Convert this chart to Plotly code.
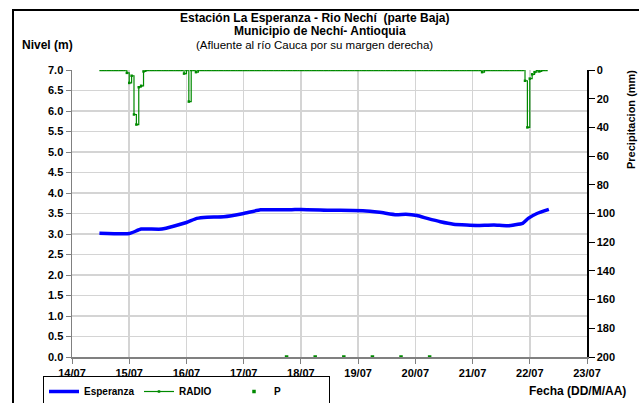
import pandas as pd
import plotly.graph_objects as go

# ---- data ----
level_times = ["2010-07-14 11:30", "2010-07-15 00:00", "2010-07-15 05:00", "2010-07-15 13:40",
               "2010-07-16 00:00", "2010-07-16 04:20", "2010-07-16 08:40", "2010-07-16 15:40",
               "2010-07-17 00:00", "2010-07-17 07:00", "2010-07-17 19:30", "2010-07-18 00:00",
               "2010-07-18 12:30", "2010-07-19 02:00", "2010-07-19 09:00", "2010-07-19 16:00",
               "2010-07-19 20:00", "2010-07-20 00:40", "2010-07-20 05:00", "2010-07-20 10:30",
               "2010-07-20 16:00", "2010-07-20 21:30", "2010-07-21 02:00", "2010-07-21 09:00",
               "2010-07-21 14:40", "2010-07-21 21:00", "2010-07-21 23:20", "2010-07-22 03:00",
               "2010-07-22 08:00"]
level_values = [3.02, 3.01, 3.12, 3.12, 3.28, 3.38, 3.41, 3.42, 3.50, 3.59, 3.59, 3.60,
                3.58, 3.57, 3.53, 3.47, 3.48, 3.45, 3.38, 3.30, 3.24, 3.22, 3.21, 3.22,
                3.20, 3.26, 3.38, 3.50, 3.60]

precip_start = "2010-07-14 12:00"
precip_end = "2010-07-22 07:00"
precip_event_times = ["2010-07-14 23:00", "2010-07-15 00:00", "2010-07-15 01:00", "2010-07-15 02:00",
                      "2010-07-15 03:00", "2010-07-15 04:00", "2010-07-15 05:00", "2010-07-15 06:00",
                      "2010-07-15 23:00", "2010-07-16 01:00", "2010-07-16 04:00", "2010-07-21 04:00",
                      "2010-07-21 22:00", "2010-07-21 23:00", "2010-07-22 00:00", "2010-07-22 01:00",
                      "2010-07-22 02:00", "2010-07-22 04:00"]
precip_event_values = [2, 9, 4, 31, 38, 12, 11, 1, 2.5, 22, 1.5, 1.5, 7.5, 40, 6, 3, 1.5, 1]

p_times = ["2010-07-17 18:00", "2010-07-18 06:00", "2010-07-18 18:00",
           "2010-07-19 06:00", "2010-07-19 18:00", "2010-07-20 06:00"]
p_values = [0, 0, 0, 0, 0, 0]

x_ticks = ["2010-07-14", "2010-07-15", "2010-07-16", "2010-07-17", "2010-07-18",
           "2010-07-19", "2010-07-20", "2010-07-21", "2010-07-22", "2010-07-23"]
y_ticks = [0.0, 0.5, 1.0, 1.5, 2.0, 2.5, 3.0, 3.5, 4.0, 4.5, 5.0, 5.5, 6.0, 6.5, 7.0]
y2_ticks = [0, 20, 40, 60, 80, 100, 120, 140, 160, 180, 200]

# hourly precipitation series (zero where no rain was recorded)
hours = pd.date_range(precip_start, precip_end, freq="h")
events = dict(zip(pd.to_datetime(precip_event_times), precip_event_values))
precip_values = [events.get(h, 0) for h in hours]

FONT = "Arial, Liberation Sans, sans-serif"
GREEN = "#008a00"

fig = go.Figure()
fig.add_trace(go.Scatter(x=pd.to_datetime(level_times), y=level_values, name="<b>Esperanza</b>",
                         mode="lines", line=dict(color="#0000ff", width=3.5, shape="spline",
                                                 smoothing=0.4)))
fig.add_trace(go.Scatter(x=hours, y=precip_values, name="<b>RADIO</b>", yaxis="y2",
                         mode="lines+markers", line=dict(color=GREEN, width=1.2, shape="hv"),
                         marker=dict(color=GREEN, size=2.5, symbol="square")))
fig.add_trace(go.Scatter(x=pd.to_datetime(p_times), y=p_values, name="<b>P</b>", mode="markers",
                         marker=dict(color=GREEN, size=3.5, symbol="square")))

W, H = 639, 403
L, R, T, B = 72, 52, 70, 46
pw, ph = W - L - R, H - T - B


def px(x):
    return (x - L) / pw


def py(y):
    return (H - B - y) / ph


tickfont = dict(family=FONT, size=11, color="black")
fig.update_layout(
    width=W, height=H,
    margin=dict(l=L, r=R, t=T, b=B, autoexpand=False),
    paper_bgcolor="white", plot_bgcolor="white",
    font=dict(family=FONT, size=11, color="black"),
    showlegend=True,
    legend=dict(orientation="h", x=px(43), y=py(376), xanchor="left", yanchor="top",
                bordercolor="black", borderwidth=1, bgcolor="white",
                font=dict(family=FONT, size=10, color="black"),
                entrywidth=50, itemwidth=30, tracegroupgap=0),
    xaxis=dict(range=["2010-07-14", "2010-07-23"], tickvals=pd.to_datetime(x_ticks),
               ticktext=["<b>%s</b>" % pd.Timestamp(t).strftime("%d/%m") for t in x_ticks],
               showgrid=True, gridcolor="#d4d4d4", gridwidth=1.5, automargin=False,
               showline=True, linecolor="#808080", linewidth=1.5,
               ticks="outside", ticklen=5, tickcolor="#808080",
               tickfont=tickfont, zeroline=False),
    yaxis=dict(range=[0, 7], tickvals=y_ticks, ticktext=["<b>%.1f</b>" % v for v in y_ticks],
               showgrid=True, gridcolor="#d4d4d4", automargin=False,
               gridwidth=1.5, showline=True, linecolor="#808080", linewidth=1.5,
               ticks="outside", ticklen=5, tickcolor="#808080", zeroline=False,
               tickfont=tickfont),
    yaxis2=dict(range=[200, 0], overlaying="y", side="right", showgrid=False, automargin=False,
                showline=True, linecolor="black", linewidth=1.5, ticks="outside", ticklen=6,
                tickcolor="black", zeroline=False, tickvals=y2_ticks,
                ticktext=["<b>%d</b>" % v for v in y2_ticks], tickfont=tickfont),
)

ann = [
    dict(text="<b>Estación La Esperanza - Rio Nechí  (parte Baja)</b>", x=px(314), y=py(18), size=12),
    dict(text="<b>Municipio de Nechí- Antioquia</b>", x=px(320), y=py(31), size=12),
    dict(text="(Afluente al río Cauca por su margen derecha)", x=px(314), y=py(45), size=11.5),
]
for a in ann:
    fig.add_annotation(text=a["text"], x=a["x"], y=a["y"], xref="paper", yref="paper",
                       showarrow=False, xanchor="center", yanchor="middle",
                       font=dict(family=FONT, size=a["size"], color="black"))
fig.add_annotation(text="<b>Nivel (m)</b>", x=px(20), y=py(45), xref="paper", yref="paper",
                   showarrow=False, xanchor="left", yanchor="middle",
                   font=dict(family=FONT, size=12, color="black"))
fig.add_annotation(text="<b>Fecha (DD/M/AA)</b>", x=px(527), y=py(391), xref="paper", yref="paper",
                   showarrow=False, xanchor="left", yanchor="middle",
                   font=dict(family=FONT, size=12, color="black"))
fig.add_annotation(text="<b>Precipitacion (mm)</b>", x=px(631), y=py(120), xref="paper", yref="paper",
                   showarrow=False, xanchor="center", yanchor="middle", textangle=-90,
                   font=dict(family=FONT, size=11, color="black"))

# outer frame (top and left edges; the rest lies outside the picture)
fig.add_shape(type="line", xref="paper", yref="paper",
              x0=px(12), x1=px(700), y0=py(10), y1=py(10),
              line=dict(color="black", width=2), layer="above")
fig.add_shape(type="line", xref="paper", yref="paper",
              x0=px(13), x1=px(13), y0=py(9), y1=py(460),
              line=dict(color="black", width=2), layer="above")

fig.write_html("out.html", config={"displayModeBar": False, "staticPlot": True},
               post_script="document.body.style.margin='0';document.body.style.padding='0';")
